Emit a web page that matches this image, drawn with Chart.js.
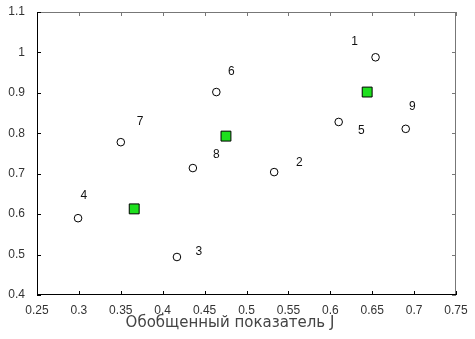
<!DOCTYPE html>
<html>
<head>
<meta charset="utf-8">
<script src="https://cdn.jsdelivr.net/npm/chart.js@4"></script>
<style>
  html, body { margin: 0; padding: 0; background: #fff; }
  #wrap { width: 475px; height: 339px; }
</style>
</head>
<body>
<div id="wrap"><canvas id="c" width="475" height="339"></canvas></div>
<script>
// точки (кружки) с номерами
const pointIds = ['1', '2', '3', '4', '5', '6', '7', '8', '9'];
const pointX = [0.654, 0.533, 0.417, 0.299, 0.610, 0.464, 0.350, 0.436, 0.690];
const pointY = [0.988, 0.704, 0.494, 0.590, 0.828, 0.902, 0.778, 0.714, 0.811];
// где стоят подписи номеров
const labelX = [0.629, 0.563, 0.443, 0.306, 0.637, 0.482, 0.373, 0.464, 0.698];
const labelY = [1.026, 0.727, 0.506, 0.645, 0.806, 0.952, 0.828, 0.746, 0.865];
// зелёные квадраты (центры)
const centerX = [0.644, 0.4755, 0.366];
const centerY = [0.902, 0.793, 0.613];

const xTitle = 'Обобщенный показатель J';

// рамка и засечки внутрь, как в matlab
const framePlugin = {
  id: 'frame',
  afterDraw(chart) {
    const { ctx, chartArea: a, scales } = chart;
    const t = 4;
    ctx.save();
    ctx.lineWidth = 1;
    // верх и право серые
    ctx.strokeStyle = '#777';
    ctx.beginPath();
    ctx.moveTo(a.left, a.top + 0.5); ctx.lineTo(a.right, a.top + 0.5);
    ctx.moveTo(a.right - 0.5, a.top); ctx.lineTo(a.right - 0.5, a.bottom);
    scales.x.ticks.forEach(tk => {
      const px = Math.round(scales.x.getPixelForValue(tk.value)) + 0.5;
      ctx.moveTo(px, a.top); ctx.lineTo(px, a.top + t);
    });
    scales.y.ticks.forEach(tk => {
      const py = Math.round(scales.y.getPixelForValue(tk.value)) + 0.5;
      ctx.moveTo(a.right, py); ctx.lineTo(a.right - t, py);
    });
    ctx.stroke();
    // низ и лево чёрные
    ctx.strokeStyle = '#000';
    ctx.beginPath();
    ctx.moveTo(a.left, a.bottom - 0.5); ctx.lineTo(a.right, a.bottom - 0.5);
    ctx.moveTo(a.left + 0.5, a.top); ctx.lineTo(a.left + 0.5, a.bottom);
    scales.x.ticks.forEach(tk => {
      const px = Math.round(scales.x.getPixelForValue(tk.value)) + 0.5;
      ctx.moveTo(px, a.bottom); ctx.lineTo(px, a.bottom - t);
    });
    scales.y.ticks.forEach(tk => {
      const py = Math.round(scales.y.getPixelForValue(tk.value)) + 0.5;
      ctx.moveTo(a.left, py); ctx.lineTo(a.left + t, py);
    });
    ctx.stroke();

    // номера точек
    ctx.fillStyle = '#111';
    ctx.font = '12px "Liberation Sans", Arial, sans-serif';
    ctx.textAlign = 'center';
    ctx.textBaseline = 'middle';
    pointIds.forEach((s, i) => {
      ctx.fillText(s, scales.x.getPixelForValue(labelX[i]), scales.y.getPixelForValue(labelY[i]));
    });

    // подпись оси x (в оригинале чуть левее центра)
    ctx.fillStyle = '#444';
    ctx.font = '15px "DejaVu Sans", Verdana, sans-serif';
    ctx.fillText(xTitle, 230, 323);
    ctx.restore();
  }
};

const tickFont = { family: '"Liberation Sans", Arial, sans-serif', size: 12 };

new Chart(document.getElementById('c'), {
  type: 'scatter',
  data: {
    datasets: [
      {
        data: pointX.map((x, i) => ({ x: x, y: pointY[i] })),
        pointStyle: 'circle',
        pointRadius: 3.8,
        pointBorderWidth: 1,
        pointBackgroundColor: '#fff',
        pointBorderColor: '#000'
      },
      {
        data: centerX.map((x, i) => ({ x: x, y: centerY[i] })),
        pointStyle: 'rect',
        pointRadius: 7,
        pointBorderWidth: 1,
        pointBackgroundColor: '#1ee01e',
        pointBorderColor: '#000'
      }
    ]
  },
  options: {
    responsive: false,
    animation: false,
    layout: { padding: { top: 12, right: 19, left: 0, bottom: 0 } },
    plugins: { legend: { display: false }, tooltip: { enabled: false } },
    scales: {
      x: {
        type: 'linear',
        min: 0.25, max: 0.75,
        grid: { display: false },
        border: { display: false },
        ticks: {
          stepSize: 0.05, color: '#333', font: tickFont, padding: 0, maxRotation: 0,
          callback: v => +v.toFixed(2) + ''
        },
        afterFit(s) { s.height = 44; }
      },
      y: {
        type: 'linear',
        min: 0.4, max: 1.1,
        grid: { display: false },
        border: { display: false },
        ticks: {
          stepSize: 0.1, color: '#333', font: tickFont, padding: 4,
          callback: v => +v.toFixed(1) + ''
        },
        afterFit(s) { s.width = 37; }
      }
    }
  },
  plugins: [framePlugin]
});
</script>
</body>
</html>
